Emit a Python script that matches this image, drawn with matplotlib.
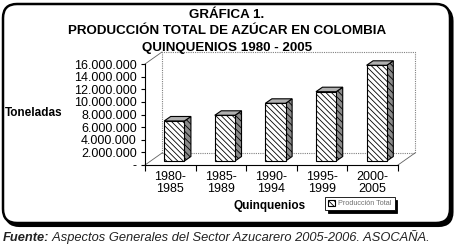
import numpy as np
import matplotlib
matplotlib.use("Agg")
import matplotlib.pyplot as plt
import matplotlib.transforms as mtransforms
from matplotlib.patches import FancyBboxPatch, Polygon, Rectangle
from matplotlib.lines import Line2D

# datos
periodos = ["1980-\n1985", "1985-\n1989", "1990-\n1994", "1995-\n1999", "2000-\n2005"]
produccion = [6340000, 7240000, 9140000, 10980000, 15160000]
yticks = np.arange(0, 16000001, 2000000)

W, H = 457, 246
def fx(p): return p / W
def fy(p): return 1 - p / H

plt.rcParams["font.family"] = "Liberation Sans"
plt.rcParams["hatch.linewidth"] = 0.6
ident = mtransforms.IdentityTransform()

fig = plt.figure(figsize=(W / 100, H / 100), dpi=100)

# marco redondeado con sombra
sombra = FancyBboxPatch((5.5, H - 226), 447, 219, boxstyle="round,pad=0,rounding_size=14",
                        fc="black", ec="black", lw=1.5, transform=ident, zorder=-2)
marco = FancyBboxPatch((3, H - 223), 447, 219, boxstyle="round,pad=0,rounding_size=14",
                       fc="white", ec="black", lw=1.8, transform=ident, zorder=-1)
fig.add_artist(sombra)
fig.add_artist(marco)

# titulos
fig.text(fx(227), fy(15), "GRÁFICA 1.", ha="center", va="center", fontsize=9.6, fontweight="bold")
fig.text(fx(227), fy(31.5), "PRODUCCIÓN TOTAL DE AZÚCAR EN COLOMBIA", ha="center", va="center",
         fontsize=9.6, fontweight="bold")
fig.text(fx(227), fy(47.5), "QUINQUENIOS 1980 - 2005", ha="center", va="center",
         fontsize=9.6, fontweight="bold")

ax = fig.add_axes([fx(145), fy(165), 253 / W, 101 / H])
ax.set_xlim(-0.5, 4.5)
ax.set_ylim(0, 16000000)
ax.patch.set_visible(False)
ax.spines["top"].set_visible(False)
ax.spines["right"].set_visible(False)
ax.spines["left"].set_linewidth(0.8)
ax.spines["bottom"].set_linewidth(0.8)

# pared del fondo (3D)
dx_f, dy_f = 17, 12
fondo = mtransforms.offset_copy(ax.transAxes, fig, x=dx_f, y=dy_f, units="dots")
ax.add_patch(Rectangle((0, 0), 1, 1, transform=fondo, fill=False, ec="#808080",
                       ls=(0, (1, 1)), lw=0.8, clip_on=False, zorder=1))
for c in [(0, 0), (1, 0), (0, 1)]:
    p0 = ax.transAxes.transform(c)
    p1 = fondo.transform(c)
    ax.add_line(Line2D([p0[0], p1[0]], [p0[1], p1[1]], color="#606060", lw=0.6,
                       transform=ident, clip_on=False))

# barras 3D
tb = mtransforms.offset_copy(ax.transData, fig, x=4, y=4, units="dots")
x = np.arange(len(produccion))
barras = ax.bar(x, produccion, 0.4, color="white", edgecolor="black", hatch="\\\\\\\\\\\\",
                lw=0.8, transform=tb, zorder=3, clip_on=False, label="Producción Total")
ddx, ddy = 6.5, 4.5
for xi, v in zip(x, produccion):
    x0, y0 = tb.transform((xi - 0.2, 0))
    x1, y1 = tb.transform((xi + 0.2, v))
    lado = Polygon([(x1, y0), (x1 + ddx, y0 + ddy), (x1 + ddx, y1 + ddy), (x1, y1)],
                   fc="#8a8a8a", ec="black", lw=0.8, hatch="\\\\\\\\\\", transform=ident,
                   clip_on=False, zorder=2.5)
    tapa = Polygon([(x0, y1), (x1, y1), (x1 + ddx, y1 + ddy), (x0 + ddx, y1 + ddy)],
                   fc="#b0b0b0", ec="black", lw=0.8, transform=ident, clip_on=False, zorder=2.5)
    ax.add_patch(lado)
    ax.add_patch(tapa)

# ejes
ax.set_yticks(yticks)
ax.set_yticklabels(["-" if t == 0 else f"{t:,}".replace(",", ".") for t in yticks])
ax.tick_params(axis="y", length=3, width=0.8, pad=3, labelsize=9)
ax.set_xticks(x)
ax.set_xticklabels(periodos, linespacing=1.0)
ax.tick_params(axis="x", which="major", length=0, pad=4, labelsize=9)
ax.set_xticks(np.arange(-0.5, 5, 1), minor=True)
ax.tick_params(axis="x", which="minor", length=4, width=0.8, direction="out")

fig.text(fx(5), fy(113), "Toneladas", ha="left", va="center", fontsize=8.5, fontweight="bold")
fig.text(fx(270), fy(206), "Quinquenios", ha="center", va="center", fontsize=8.5, fontweight="bold")

leg = ax.legend(handles=[barras], loc="center", bbox_to_anchor=(fx(360), fy(203.5)),
                bbox_transform=fig.transFigure, fontsize=5.2, labelcolor="#707070",
                handlelength=0.9, handleheight=0.9, handletextpad=0.5, borderpad=0.4,
                fancybox=False, edgecolor="black", framealpha=1,
                shadow={"color": "black", "alpha": 1})
leg.get_frame().set_linewidth(0.6)

# fuente
t1 = fig.text(fx(3), fy(241), "Fuente:", ha="left", va="baseline", fontsize=9.3,
              fontweight="bold", style="italic", color="#222222")
ax.annotate(" Aspectos Generales del Sector Azucarero 2005-2006. ASOCAÑA.", xy=(1, 0),
            xycoords=t1, ha="left", va="bottom", fontsize=9.3, style="italic",
            color="#222222", annotation_clip=False)

fig.savefig("out.png", dpi=100)
